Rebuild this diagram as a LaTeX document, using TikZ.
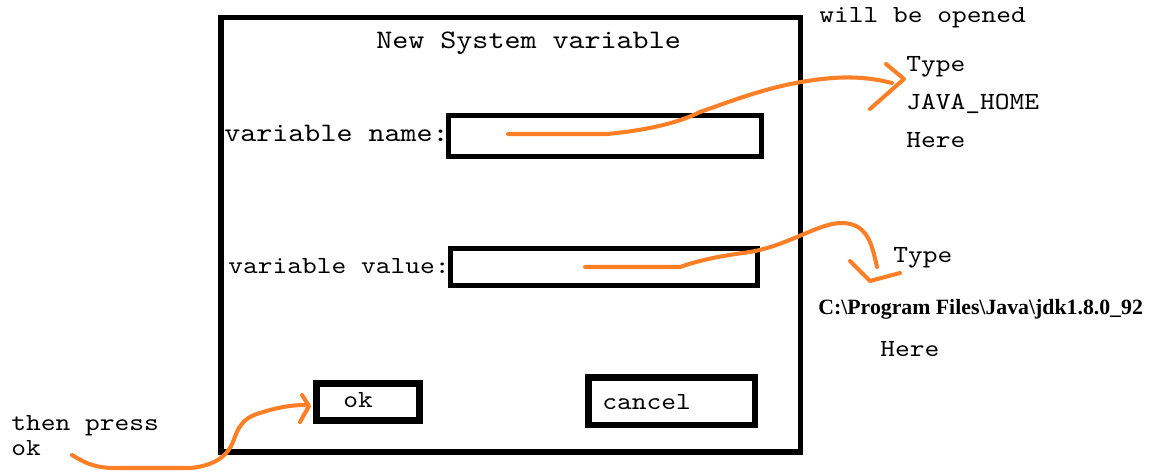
\documentclass[tikz,border=0pt]{standalone}
\usepackage{fontspec}
\setmonofont{lmmono10-regular}[Extension=.otf, FakeStretch=1.143]
\newfontfamily\pathfont{Liberation Serif}
\usepackage{tikz}
\usepackage{xcolor}
\usetikzlibrary{positioning}
\usetikzlibrary{calc}
\definecolor{pen}{RGB}{255,127,39}

\begin{document}
\begin{tikzpicture}[x=0.02cm, y=-0.02cm,
  txt/.style={anchor=base west, inner sep=0pt, font=\ttfamily\fontsize{14}{16}\selectfont},
  bigtxt/.style={txt, font=\ttfamily\fontsize{15.2}{17}\selectfont},
  frame/.style={draw, rectangle, inner sep=0pt},
  scribble/.style={draw=pen, line width=2.3pt, line cap=round, line join=round}]
\useasboundingbox (0,0) rectangle (1151,472);

\node[frame, line width=0.11cm, minimum width=11.59cm, minimum height=8.69cm] (dialog) at (510.75,234.75) {};
\node[frame, line width=0.1cm, minimum width=6.27cm, minimum height=0.81cm] (namefield) at (605.25,136.25) {};
\node[frame, line width=0.1cm, minimum width=6.15cm, minimum height=0.75cm] (valuefield) at (603.75,267) {};
\node[frame, line width=0.14cm, minimum width=2.07cm, minimum height=0.75cm] (okbtn) at (367.75,401.75) {};
\node[frame, line width=0.13cm, minimum width=3.33cm, minimum height=0.95cm] (cancelbtn) at (671.65,401.25) {};

\node[bigtxt] (title) at (376,49) {New System variable};
\node[bigtxt] (namelabel) at (224,141.5) {variable name:};
\node[txt] (valuelabel) at (228,273.5) {variable value:};
\node[txt] (oklabel) at (343,407.5) {ok};
\node[txt] (cancellabel) at (602,409.3) {cancel};

\node[txt] (opened) at (819,23) {will be opened};
\node[txt] (typeA) at (906,72) {Type};
\node[txt] (javahome) at (906,110) {JAVA\_HOME};
\node[txt] (hereA) at (906,148) {Here};
\node[txt] (typeB) at (893,263) {Type};
\node[anchor=base west, inner sep=0pt, font=\pathfont\bfseries\fontsize{12.4}{14}\selectfont] (jdkpath) at (818,315) {C:\textbackslash Program Files\textbackslash Java\textbackslash jdk1.8.0\_92};
\node[txt] (hereB) at (880,357) {Here};
\node[txt] (thenpress) at (11,430) {then press};
\node[txt] (thenok) at (11,455) {ok};

\coordinate (nstart) at (508,134);
\coordinate (tipA) at (904,79);
\coordinate (vstart) at (585,267);
\coordinate (tipB) at (870,281);
\coordinate (pstart) at (72,455);
\coordinate (tipC) at (309,406);

\draw[scribble] (nstart) -- (607,134) .. controls (650,130) and (680,122) .. (700,112)
  .. controls (740,98) and (780,82) .. (833,78) .. controls (860,76) and (880,80) .. (892,83);
\draw[scribble] ($(tipA)+(-18,-15)$) -- (tipA) -- ($(tipA)+(-34,30)$);

\draw[scribble] (vstart) -- (680,267) .. controls (700,260) and (720,256) .. (750,252)
  .. controls (790,245) and (820,222) .. (843,223) .. controls (868,224) and (872,245) .. (877,267);
\draw[scribble] ($(tipB)+(-20,-20)$) -- (tipB) -- ($(tipB)+(30,-8)$);

\draw[scribble] (pstart) .. controls (85,463) and (95,468) .. (115,468) -- (190,468)
  .. controls (215,466) and (228,455) .. (233,442) .. controls (238,428) and (242,418) .. (260,413)
  .. controls (275,408) and (290,405) .. (305,405);
\draw[scribble] ($(tipC)+(-7,-11)$) -- (tipC) -- ($(tipC)+(-9,16)$);
\end{tikzpicture}
\end{document}
